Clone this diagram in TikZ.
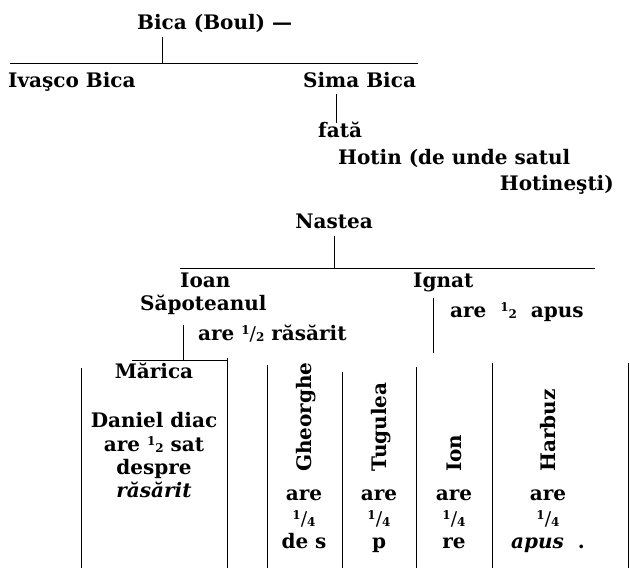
\documentclass[tikz,border=0pt]{standalone}
\usepackage{fontspec}
\setmainfont{DejaVu Serif}
\newcommand\topnum[1]{\raisebox{6pt}{\fontsize{12}{12}\selectfont#1}}
\newcommand\botnum[1]{\raisebox{-1pt}{\fontsize{12}{12}\selectfont#1}}
\newcommand\slashpart{{\fontsize{19}{19}\selectfont\mdseries/}}
\begin{document}
\begin{tikzpicture}[x=1pt,y=-1pt,
  person/.style={inner sep=0pt,font=\fontsize{20}{22}\selectfont\bfseries},
  vperson/.style={person,rotate=90,anchor=base west},
  line/.style={line width=1pt}]
\useasboundingbox (0,0) rectangle (630,570);
% first generations
 \node[person,anchor=base west] (bica) at (137,29) {Bica (Boul) ---};
 \node[person,anchor=base west] (ivasco) at (8,87) {Ivaşco Bica};
 \node[person,anchor=base west] (sima) at (303,87) {Sima Bica};
 \node[person,anchor=base west] (fata) at (318,137) {fată};
 \node[person,anchor=base west] (hotin) at (338,164) {Hotin (de unde satul};
 \node[person,anchor=base east] (hotinesti) at (614,190) {Hotineşti)};
 \node[person,anchor=base] (nastea) at (334,228) {Nastea};
 \coordinate (bar1) at (162,63);
 \draw[line] (bar1 |- bica.south) ++(0,5) -- (bar1);
 \draw[line] (10,63) -- (418,63);
 \draw[line] (336,94) -- (336,123);
 \draw[line] (nastea.south) ++(0,8) -- (334,268);
 \draw[line] (180,268) -- (595,268);
% Ioan and Ignat
 \node[person,anchor=base west] (ioan) at (180,287) {Ioan};
 \node[person,anchor=base west] (sapoteanul) at (140,310) {Săpoteanul};
 \node[person,anchor=base west] (ioanpart) at (198,340) {are \topnum{1}\slashpart\botnum{2} răsărit};
 \node[person,anchor=base west] (ignat) at (413,287) {Ignat};
 \node[person,anchor=base west] (ignatpart) at (450,317) {are \ \topnum{1}\botnum{2} \ apus};
 \draw[line] (183,325) -- (183,360);
 \draw[line] (132,360) -- (227,360);
 \draw[line] (433,298) -- (433,353);
% columns
 \draw[line] (81,368) -- (81,568);
 \draw[line] (227,358) -- (227,568);
 \foreach \x/\y in {267/365,342/372,416/367,492/363,628/363}
  \draw[line] (\x,\y) -- (\x,568);
 \node[person,anchor=base] (marica) at (154,378) {Mărica};
 \node[person,anchor=base] (daniel) at (154,427) {Daniel diac};
 \node[person,anchor=base] (mpart) at (154,451) {are \topnum{1}\botnum{2} sat};
 \node[person,anchor=base] (despre) at (154,474) {despre};
 \node[person,anchor=base] (rasarit) at (154,497) {\itshape răsărit};
 \foreach \n/\cx/\who/\where in {gheorghe/304/Gheorghe/de s,tugulea/379/Tugulea/p,ion/454/Ion/re,harbuz/548/Harbuz/{\itshape apus}\ \ .}{
  \node[vperson] (\n) at (\cx+7,472) {\who};
  \node[person,anchor=base] (\n-are) at (\cx,500) {are};
  \node[person,anchor=base] (\n-frac) at (\cx,525) {\topnum{1}\slashpart\botnum{4}};
  \node[person,anchor=base] (\n-dir) at (\cx,548) {\where};
 }
\end{tikzpicture}
\end{document}
